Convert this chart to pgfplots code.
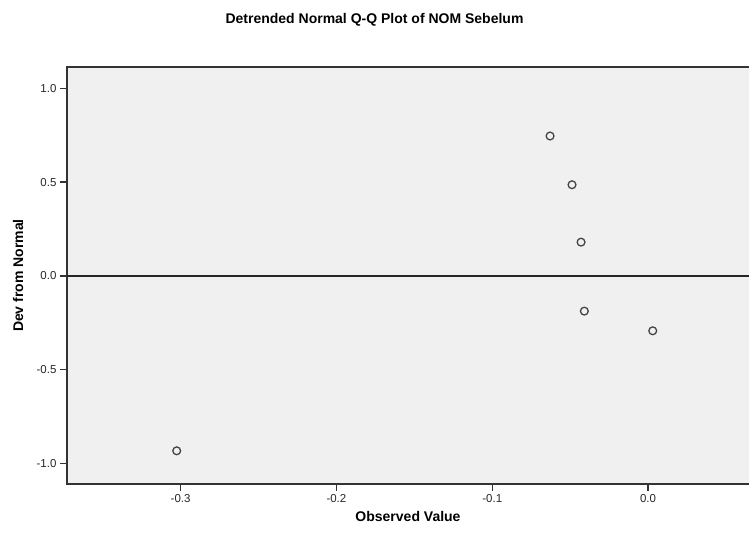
\documentclass[border=0pt]{standalone}
\usepackage{fontspec}
\setmainfont{Liberation Sans}
\usepackage{pgfplots}
\pgfplotsset{compat=1.18}
\definecolor{plotbg}{HTML}{F0F0F0}
\definecolor{framec}{HTML}{333333}
\definecolor{markc}{HTML}{444444}

\begin{document}
\begin{tikzpicture}
\begin{axis}[
    scale only axis,
    width=685bp, height=417bp,
    xmin=-0.3729, xmax=0.0667,
    ymin=-1.11, ymax=1.114,
    axis background/.style={fill=plotbg},
    axis line style={color=framec, line width=1.4bp},
    xtick={-0.3,-0.2,-0.1,0.0},
    ytick={-1.0,-0.5,0.0,0.5,1.0},
    xtick pos=lower, ytick pos=left,
    tick align=outside,
    major tick length=7bp,
    tick style={color=framec, line width=1.3bp},
    tick label style={font=\fontsize{11.5bp}{13bp}\selectfont, color=black!85},
    /pgf/number format/assume math mode=true,
    /pgf/number format/fixed, /pgf/number format/fixed zerofill,
    /pgf/number format/precision=1,
    clip=false,
]
% reference line at zero
\addplot[draw=black!85, line width=1.3bp] coordinates {(-0.3729,0) (0.0667,0)};
\addplot[only marks, mark=o, mark size=3.9bp,
         mark options={draw=markc, line width=1.3bp}] coordinates {
    (-0.0629, 0.746)
    (-0.0488, 0.486)
    (-0.0430, 0.180)
    (-0.0409,-0.188)
    ( 0.0030,-0.293)
    (-0.3025,-0.933)
};
\end{axis}
\node[font=\bfseries\fontsize{14bp}{16bp}\selectfont] at (307.5bp,464bp) {Detrended Normal Q-Q Plot of NOM Sebelum};
\node[font=\bfseries\fontsize{14bp}{16bp}\selectfont] at (341bp,-32bp) {Observed Value};
\node[font=\bfseries\fontsize{14bp}{16bp}\selectfont, rotate=90] at (-49bp,208.5bp) {Dev from Normal};
\pgfresetboundingbox
\path (-67bp,-51bp) rectangle (682bp,484bp);
\end{tikzpicture}
\end{document}
